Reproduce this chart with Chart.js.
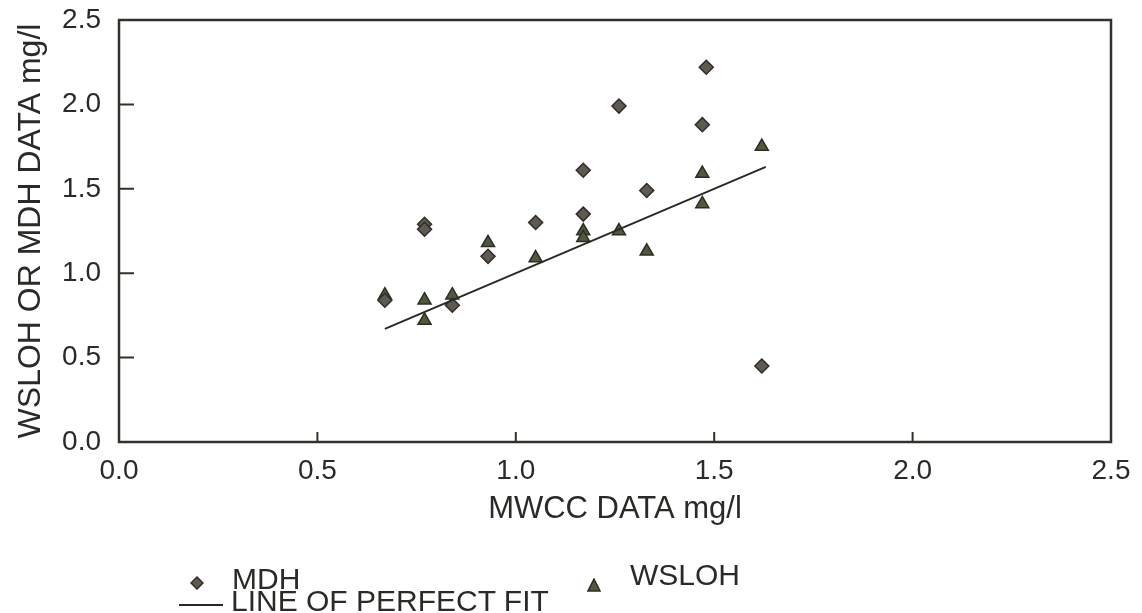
<!DOCTYPE html>
<html>
<head>
<meta charset="utf-8">
<script src="https://cdn.jsdelivr.net/npm/chart.js@4.4.1/dist/chart.umd.min.js"></script>
<style>
  html, body { margin: 0; padding: 0; background: #fff; }
  #wrap { position: relative; width: 1142px; height: 613px; overflow: hidden; }
  #c { position: absolute; left: 0; top: 0; }
  .lg { position: absolute; font-family: "Liberation Sans", Arial, sans-serif; font-size: 30px; line-height: 30px; color: #2a2a26; white-space: nowrap; }
  .mk { position: absolute; }
</style>
</head>
<body>
<div id="wrap">
  <canvas id="c" width="1142" height="613"></canvas>
  <svg class="mk" style="left:190px;top:576px" width="14" height="14"><polygon points="7,1 13,7 7,13 1,7" fill="#5e5a52" stroke="#2f2d29" stroke-width="1.5"/></svg>
  <div class="lg" style="left:232px;top:564px">MDH</div>
  <svg class="mk" style="left:587px;top:578px" width="14" height="14"><polygon points="7,1 13,13 1,13" fill="#4f5840" stroke="#2b2f22" stroke-width="1.5"/></svg>
  <div class="lg" style="left:630px;top:560px">WSLOH</div>
  <div style="position:absolute;left:179px;top:604px;width:44px;height:2px;background:#2a2a22"></div>
  <div class="lg" style="left:231px;top:586px">LINE OF PERFECT FIT</div>
</div>
<script>
// MWCC readings vs. the two labs' readings, mg/l
const mdhX = [0.67, 0.77, 0.77, 0.84, 0.93, 1.05, 1.17, 1.17, 1.26, 1.33, 1.47, 1.48, 1.62];
const mdhY = [0.84, 1.29, 1.26, 0.81, 1.10, 1.30, 1.61, 1.35, 1.99, 1.49, 1.88, 2.22, 0.45];
const wsX  = [0.67, 0.77, 0.77, 0.84, 0.93, 1.05, 1.17, 1.17, 1.26, 1.33, 1.47, 1.47, 1.62];
const wsY  = [0.87, 0.84, 0.72, 0.87, 1.18, 1.09, 1.25, 1.21, 1.25, 1.13, 1.59, 1.41, 1.75];
const fitX = [0.67, 1.63];
const fitY = [0.67, 1.63];
const axisTicks = [0.0, 0.5, 1.0, 1.5, 2.0, 2.5];

const pts = (xs, ys) => xs.map((x, i) => ({ x, y: ys[i] }));
const ink = '#35302a';

// box around the plot plus short inward tick marks
const framePlugin = {
  id: 'frame',
  afterDraw(chart) {
    const { ctx, chartArea: a, scales: { x, y } } = chart;
    ctx.save();
    ctx.strokeStyle = ink; ctx.lineWidth = 2.5;
    ctx.strokeRect(a.left, a.top, a.right - a.left, a.bottom - a.top);
    ctx.lineWidth = 2;
    ctx.beginPath();
    axisTicks.slice(1, -1).forEach(v => {
      const px = x.getPixelForValue(v);
      ctx.moveTo(px, a.bottom); ctx.lineTo(px, a.bottom - 10);
      const py = y.getPixelForValue(v);
      ctx.moveTo(a.left, py); ctx.lineTo(a.left + 15, py);
    });
    ctx.stroke();
    ctx.restore();
  }
};

const tickFont = { family: '"Liberation Sans", Arial, sans-serif', size: 28 };

new Chart(document.getElementById('c'), {
  type: 'scatter',
  data: {
    datasets: [
      { label: 'LINE OF PERFECT FIT', type: 'line', data: pts(fitX, fitY), borderColor: '#2a2a22', borderWidth: 2, pointRadius: 0, fill: false },
      { label: 'MDH', data: pts(mdhX, mdhY), pointStyle: 'rectRot', pointRadius: 7, backgroundColor: '#5e5a52', borderColor: '#2f2d29', borderWidth: 1.5 },
      { label: 'WSLOH', data: pts(wsX, wsY), pointStyle: 'triangle', pointRadius: 7.5, backgroundColor: '#4f5840', borderColor: '#2b2f22', borderWidth: 1.5 }
    ]
  },
  options: {
    responsive: false,
    animation: false,
    layout: { padding: { top: 20, right: 31, bottom: 81, left: 0 } },
    plugins: { legend: { display: false }, tooltip: { enabled: false } },
    scales: {
      x: {
        type: 'linear', min: 0, max: 2.5,
        afterBuildTicks: s => { s.ticks = axisTicks.map(v => ({ value: v })); },
        afterFit: s => { s.height = 90; s.paddingLeft = 0; s.paddingRight = 0; },
        grid: { display: false, drawTicks: false },
        border: { display: false },
        ticks: { font: tickFont, color: '#2a2a26', padding: 12, callback: v => v.toFixed(1) },
        title: { display: true, text: 'MWCC DATA mg/l', font: { family: '"Liberation Sans", Arial, sans-serif', size: 31 }, color: '#2a2a26', padding: { top: 0, bottom: 4 } }
      },
      y: {
        type: 'linear', min: 0, max: 2.5,
        afterBuildTicks: s => { s.ticks = axisTicks.map(v => ({ value: v })); },
        afterFit: s => { s.width = 119; s.paddingTop = 0; s.paddingBottom = 0; },
        grid: { display: false, drawTicks: false },
        border: { display: false },
        ticks: { font: tickFont, color: '#2a2a26', padding: 18, callback: v => v.toFixed(1) },
        title: { display: true, text: 'WSLOH OR MDH DATA mg/l', font: { family: '"Liberation Sans", Arial, sans-serif', size: 32 }, color: '#2a2a26', padding: { top: 12, bottom: 0 } }
      }
    }
  },
  plugins: [framePlugin]
});
</script>
</body>
</html>
